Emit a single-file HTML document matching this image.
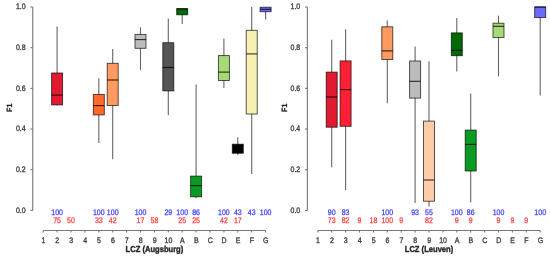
<!DOCTYPE html>
<html><head><meta charset="utf-8"><style>
html,body{margin:0;padding:0;background:#fff;}
body{width:550px;height:257px;overflow:hidden;}
svg{display:block;will-change:transform;}
text{font-family:"Liberation Sans",sans-serif;text-rendering:geometricPrecision;}
.ax{stroke:#777;stroke-width:1.1;fill:none;}
.wh{stroke:#666;stroke-width:1.1;}
.bx{stroke:rgba(0,0,0,0.72);stroke-width:0.9;}
.md{stroke:rgba(0,0,0,0.8);stroke-width:1.1;}
.yt{font-size:7.98px;fill:#404040;stroke:#404040;stroke-width:0.35px;text-anchor:end;}
.xt{font-size:7.98px;fill:#404040;stroke:#404040;stroke-width:0.35px;text-anchor:middle;}
.yl{font-size:7.6px;font-weight:bold;fill:#222;stroke:#222;stroke-width:0.3px;text-anchor:middle;}
.xl{font-size:8.66px;font-weight:bold;fill:#2a2a2a;stroke:#2a2a2a;stroke-width:0.4px;text-anchor:middle;}
.bn{font-size:7.98px;fill:#3a3aff;stroke:#3a3aff;stroke-width:0.25px;text-anchor:middle;}
.rn{font-size:7.98px;fill:#ff3a3a;stroke:#ff3a3a;stroke-width:0.25px;text-anchor:middle;}
</style></head><body>
<svg width="550" height="257" viewBox="0 0 550 257">
<rect width="550" height="257" fill="#fff"/>
<g>
<line x1="32.75" y1="7.00" x2="32.75" y2="210.40" class="ax"/>
<line x1="30.45" y1="210.40" x2="32.75" y2="210.40" class="ax"/>
<text transform="translate(25.65,212.60) scale(0.8772,1)" class="yt">0.0</text>
<line x1="30.45" y1="169.72" x2="32.75" y2="169.72" class="ax"/>
<text transform="translate(25.65,171.92) scale(0.8772,1)" class="yt">0.2</text>
<line x1="30.45" y1="129.04" x2="32.75" y2="129.04" class="ax"/>
<text transform="translate(25.65,131.24) scale(0.8772,1)" class="yt">0.4</text>
<line x1="30.45" y1="88.36" x2="32.75" y2="88.36" class="ax"/>
<text transform="translate(25.65,90.56) scale(0.8772,1)" class="yt">0.6</text>
<line x1="30.45" y1="47.68" x2="32.75" y2="47.68" class="ax"/>
<text transform="translate(25.65,49.88) scale(0.8772,1)" class="yt">0.8</text>
<line x1="30.45" y1="7.00" x2="32.75" y2="7.00" class="ax"/>
<text transform="translate(25.65,9.20) scale(0.8772,1)" class="yt">1.0</text>
<text transform="translate(12.3,107.8) rotate(-90) scale(0.92,1)" class="yl">F1</text>
<line x1="43.20" y1="230.5" x2="265.60" y2="230.5" class="ax"/>
<line x1="43.20" y1="230.5" x2="43.20" y2="232.5" class="ax"/>
<text transform="translate(43.40,243.00) scale(0.8772,1)" class="xt">1</text>
<line x1="57.10" y1="230.5" x2="57.10" y2="232.5" class="ax"/>
<text transform="translate(57.30,243.00) scale(0.8772,1)" class="xt">2</text>
<line x1="71.00" y1="230.5" x2="71.00" y2="232.5" class="ax"/>
<text transform="translate(71.20,243.00) scale(0.8772,1)" class="xt">3</text>
<line x1="84.90" y1="230.5" x2="84.90" y2="232.5" class="ax"/>
<text transform="translate(85.10,243.00) scale(0.8772,1)" class="xt">4</text>
<line x1="98.80" y1="230.5" x2="98.80" y2="232.5" class="ax"/>
<text transform="translate(99.00,243.00) scale(0.8772,1)" class="xt">5</text>
<line x1="112.70" y1="230.5" x2="112.70" y2="232.5" class="ax"/>
<text transform="translate(112.90,243.00) scale(0.8772,1)" class="xt">6</text>
<line x1="126.60" y1="230.5" x2="126.60" y2="232.5" class="ax"/>
<text transform="translate(126.80,243.00) scale(0.8772,1)" class="xt">7</text>
<line x1="140.50" y1="230.5" x2="140.50" y2="232.5" class="ax"/>
<text transform="translate(140.70,243.00) scale(0.8772,1)" class="xt">8</text>
<line x1="154.40" y1="230.5" x2="154.40" y2="232.5" class="ax"/>
<text transform="translate(154.60,243.00) scale(0.8772,1)" class="xt">9</text>
<line x1="168.30" y1="230.5" x2="168.30" y2="232.5" class="ax"/>
<text transform="translate(168.50,243.00) scale(0.8772,1)" class="xt">10</text>
<line x1="182.20" y1="230.5" x2="182.20" y2="232.5" class="ax"/>
<text transform="translate(182.40,243.00) scale(0.8772,1)" class="xt">A</text>
<line x1="196.10" y1="230.5" x2="196.10" y2="232.5" class="ax"/>
<text transform="translate(196.30,243.00) scale(0.8772,1)" class="xt">B</text>
<line x1="210.00" y1="230.5" x2="210.00" y2="232.5" class="ax"/>
<text transform="translate(210.20,243.00) scale(0.8772,1)" class="xt">C</text>
<line x1="223.90" y1="230.5" x2="223.90" y2="232.5" class="ax"/>
<text transform="translate(224.10,243.00) scale(0.8772,1)" class="xt">D</text>
<line x1="237.80" y1="230.5" x2="237.80" y2="232.5" class="ax"/>
<text transform="translate(238.00,243.00) scale(0.8772,1)" class="xt">E</text>
<line x1="251.70" y1="230.5" x2="251.70" y2="232.5" class="ax"/>
<text transform="translate(251.90,243.00) scale(0.8772,1)" class="xt">F</text>
<line x1="265.60" y1="230.5" x2="265.60" y2="232.5" class="ax"/>
<text transform="translate(265.80,243.00) scale(0.8772,1)" class="xt">G</text>
<text transform="translate(154.40,252.00) scale(0.8772,1)" class="xl">LCZ (Augsburg)</text>
<text transform="translate(57.10,214.60) scale(0.8772,1)" class="bn">100</text>
<text transform="translate(98.80,214.60) scale(0.8772,1)" class="bn">100</text>
<text transform="translate(112.70,214.60) scale(0.8772,1)" class="bn">100</text>
<text transform="translate(140.50,214.60) scale(0.8772,1)" class="bn">100</text>
<text transform="translate(168.30,214.60) scale(0.8772,1)" class="bn">29</text>
<text transform="translate(182.20,214.60) scale(0.8772,1)" class="bn">100</text>
<text transform="translate(196.10,214.60) scale(0.8772,1)" class="bn">86</text>
<text transform="translate(223.90,214.60) scale(0.8772,1)" class="bn">100</text>
<text transform="translate(237.80,214.60) scale(0.8772,1)" class="bn">43</text>
<text transform="translate(251.70,214.60) scale(0.8772,1)" class="bn">43</text>
<text transform="translate(265.60,214.60) scale(0.8772,1)" class="bn">100</text>
<text transform="translate(57.10,222.90) scale(0.8772,1)" class="rn">75</text>
<text transform="translate(71.00,222.90) scale(0.8772,1)" class="rn">50</text>
<text transform="translate(98.80,222.90) scale(0.8772,1)" class="rn">33</text>
<text transform="translate(112.70,222.90) scale(0.8772,1)" class="rn">42</text>
<text transform="translate(140.50,222.90) scale(0.8772,1)" class="rn">17</text>
<text transform="translate(154.40,222.90) scale(0.8772,1)" class="rn">58</text>
<text transform="translate(182.20,222.90) scale(0.8772,1)" class="rn">25</text>
<text transform="translate(196.10,222.90) scale(0.8772,1)" class="rn">25</text>
<text transform="translate(223.90,222.90) scale(0.8772,1)" class="rn">42</text>
<text transform="translate(237.80,222.90) scale(0.8772,1)" class="rn">17</text>
<line x1="57.10" y1="26.6" x2="57.10" y2="105.6" class="wh"/>
<rect x="51.60" y="73.0" width="11.0" height="31.90" fill="#e01a30" class="bx"/>
<line x1="51.60" y1="95.1" x2="62.60" y2="95.1" class="md"/>
<line x1="98.80" y1="78.3" x2="98.80" y2="143.0" class="wh"/>
<rect x="93.30" y="94.4" width="11.0" height="20.50" fill="#ff6a2a" class="bx"/>
<line x1="93.30" y1="105.6" x2="104.30" y2="105.6" class="md"/>
<line x1="112.70" y1="49.1" x2="112.70" y2="159.3" class="wh"/>
<rect x="107.20" y="63.3" width="11.0" height="42.20" fill="#ff9a60" class="bx"/>
<line x1="107.20" y1="80.0" x2="118.20" y2="80.0" class="md"/>
<line x1="140.50" y1="27.3" x2="140.50" y2="70.2" class="wh"/>
<rect x="135.00" y="34.4" width="11.0" height="13.90" fill="#bcbcbc" class="bx"/>
<line x1="135.00" y1="39.6" x2="146.00" y2="39.6" class="md"/>
<line x1="168.30" y1="18.6" x2="168.30" y2="115.2" class="wh"/>
<rect x="162.80" y="42.7" width="11.0" height="48.20" fill="#555555" class="bx"/>
<line x1="162.80" y1="67.5" x2="173.80" y2="67.5" class="md"/>
<line x1="182.20" y1="8.7" x2="182.20" y2="24.1" class="wh"/>
<rect x="176.70" y="8.7" width="11.0" height="6.10" fill="#006a00" class="bx"/>
<line x1="176.70" y1="8.9" x2="187.70" y2="8.9" class="md"/>
<line x1="196.10" y1="84.5" x2="196.10" y2="198.2" class="wh"/>
<rect x="190.60" y="176.1" width="11.0" height="20.70" fill="#0a9c22" class="bx"/>
<line x1="190.60" y1="185.6" x2="201.60" y2="185.6" class="md"/>
<line x1="223.90" y1="38.6" x2="223.90" y2="88.0" class="wh"/>
<rect x="218.40" y="55.6" width="11.0" height="24.90" fill="#a8d878" class="bx"/>
<line x1="218.40" y1="72.1" x2="229.40" y2="72.1" class="md"/>
<line x1="237.80" y1="137.2" x2="237.80" y2="154.9" class="wh"/>
<rect x="232.30" y="144.2" width="11.0" height="8.80" fill="#000000" class="bx"/>
<line x1="232.30" y1="153.0" x2="243.30" y2="153.0" class="md"/>
<line x1="251.70" y1="7.0" x2="251.70" y2="173.9" class="wh"/>
<rect x="246.20" y="30.3" width="11.0" height="83.70" fill="#f8f0b0" class="bx"/>
<line x1="246.20" y1="53.9" x2="257.20" y2="53.9" class="md"/>
<line x1="265.60" y1="7.2" x2="265.60" y2="19.6" class="wh"/>
<rect x="260.10" y="7.2" width="11.0" height="4.50" fill="#6a6aff" class="bx"/>
<line x1="260.10" y1="9.3" x2="271.10" y2="9.3" class="md"/>
</g>
<g transform="translate(274.6,0)">
<line x1="32.75" y1="7.00" x2="32.75" y2="210.40" class="ax"/>
<line x1="30.45" y1="210.40" x2="32.75" y2="210.40" class="ax"/>
<text transform="translate(25.65,212.60) scale(0.8772,1)" class="yt">0.0</text>
<line x1="30.45" y1="169.72" x2="32.75" y2="169.72" class="ax"/>
<text transform="translate(25.65,171.92) scale(0.8772,1)" class="yt">0.2</text>
<line x1="30.45" y1="129.04" x2="32.75" y2="129.04" class="ax"/>
<text transform="translate(25.65,131.24) scale(0.8772,1)" class="yt">0.4</text>
<line x1="30.45" y1="88.36" x2="32.75" y2="88.36" class="ax"/>
<text transform="translate(25.65,90.56) scale(0.8772,1)" class="yt">0.6</text>
<line x1="30.45" y1="47.68" x2="32.75" y2="47.68" class="ax"/>
<text transform="translate(25.65,49.88) scale(0.8772,1)" class="yt">0.8</text>
<line x1="30.45" y1="7.00" x2="32.75" y2="7.00" class="ax"/>
<text transform="translate(25.65,9.20) scale(0.8772,1)" class="yt">1.0</text>
<text transform="translate(12.3,107.8) rotate(-90) scale(0.92,1)" class="yl">F1</text>
<line x1="43.20" y1="230.5" x2="265.60" y2="230.5" class="ax"/>
<line x1="43.20" y1="230.5" x2="43.20" y2="232.5" class="ax"/>
<text transform="translate(43.40,243.00) scale(0.8772,1)" class="xt">1</text>
<line x1="57.10" y1="230.5" x2="57.10" y2="232.5" class="ax"/>
<text transform="translate(57.30,243.00) scale(0.8772,1)" class="xt">2</text>
<line x1="71.00" y1="230.5" x2="71.00" y2="232.5" class="ax"/>
<text transform="translate(71.20,243.00) scale(0.8772,1)" class="xt">3</text>
<line x1="84.90" y1="230.5" x2="84.90" y2="232.5" class="ax"/>
<text transform="translate(85.10,243.00) scale(0.8772,1)" class="xt">4</text>
<line x1="98.80" y1="230.5" x2="98.80" y2="232.5" class="ax"/>
<text transform="translate(99.00,243.00) scale(0.8772,1)" class="xt">5</text>
<line x1="112.70" y1="230.5" x2="112.70" y2="232.5" class="ax"/>
<text transform="translate(112.90,243.00) scale(0.8772,1)" class="xt">6</text>
<line x1="126.60" y1="230.5" x2="126.60" y2="232.5" class="ax"/>
<text transform="translate(126.80,243.00) scale(0.8772,1)" class="xt">7</text>
<line x1="140.50" y1="230.5" x2="140.50" y2="232.5" class="ax"/>
<text transform="translate(140.70,243.00) scale(0.8772,1)" class="xt">8</text>
<line x1="154.40" y1="230.5" x2="154.40" y2="232.5" class="ax"/>
<text transform="translate(154.60,243.00) scale(0.8772,1)" class="xt">9</text>
<line x1="168.30" y1="230.5" x2="168.30" y2="232.5" class="ax"/>
<text transform="translate(168.50,243.00) scale(0.8772,1)" class="xt">10</text>
<line x1="182.20" y1="230.5" x2="182.20" y2="232.5" class="ax"/>
<text transform="translate(182.40,243.00) scale(0.8772,1)" class="xt">A</text>
<line x1="196.10" y1="230.5" x2="196.10" y2="232.5" class="ax"/>
<text transform="translate(196.30,243.00) scale(0.8772,1)" class="xt">B</text>
<line x1="210.00" y1="230.5" x2="210.00" y2="232.5" class="ax"/>
<text transform="translate(210.20,243.00) scale(0.8772,1)" class="xt">C</text>
<line x1="223.90" y1="230.5" x2="223.90" y2="232.5" class="ax"/>
<text transform="translate(224.10,243.00) scale(0.8772,1)" class="xt">D</text>
<line x1="237.80" y1="230.5" x2="237.80" y2="232.5" class="ax"/>
<text transform="translate(238.00,243.00) scale(0.8772,1)" class="xt">E</text>
<line x1="251.70" y1="230.5" x2="251.70" y2="232.5" class="ax"/>
<text transform="translate(251.90,243.00) scale(0.8772,1)" class="xt">F</text>
<line x1="265.60" y1="230.5" x2="265.60" y2="232.5" class="ax"/>
<text transform="translate(265.80,243.00) scale(0.8772,1)" class="xt">G</text>
<text transform="translate(154.40,252.00) scale(0.8772,1)" class="xl">LCZ (Leuven)</text>
<text transform="translate(57.10,214.60) scale(0.8772,1)" class="bn">90</text>
<text transform="translate(71.00,214.60) scale(0.8772,1)" class="bn">83</text>
<text transform="translate(112.70,214.60) scale(0.8772,1)" class="bn">100</text>
<text transform="translate(140.50,214.60) scale(0.8772,1)" class="bn">93</text>
<text transform="translate(154.40,214.60) scale(0.8772,1)" class="bn">55</text>
<text transform="translate(182.20,214.60) scale(0.8772,1)" class="bn">100</text>
<text transform="translate(196.10,214.60) scale(0.8772,1)" class="bn">86</text>
<text transform="translate(223.90,214.60) scale(0.8772,1)" class="bn">100</text>
<text transform="translate(265.60,214.60) scale(0.8772,1)" class="bn">100</text>
<text transform="translate(57.10,222.90) scale(0.8772,1)" class="rn">73</text>
<text transform="translate(71.00,222.90) scale(0.8772,1)" class="rn">82</text>
<text transform="translate(84.90,222.90) scale(0.8772,1)" class="rn">9</text>
<text transform="translate(98.80,222.90) scale(0.8772,1)" class="rn">18</text>
<text transform="translate(112.70,222.90) scale(0.8772,1)" class="rn">100</text>
<text transform="translate(126.60,222.90) scale(0.8772,1)" class="rn">9</text>
<text transform="translate(154.40,222.90) scale(0.8772,1)" class="rn">82</text>
<text transform="translate(182.20,222.90) scale(0.8772,1)" class="rn">9</text>
<text transform="translate(196.10,222.90) scale(0.8772,1)" class="rn">9</text>
<text transform="translate(223.90,222.90) scale(0.8772,1)" class="rn">9</text>
<text transform="translate(237.80,222.90) scale(0.8772,1)" class="rn">9</text>
<text transform="translate(251.70,222.90) scale(0.8772,1)" class="rn">9</text>
<line x1="57.10" y1="39.7" x2="57.10" y2="167.3" class="wh"/>
<rect x="51.60" y="72.1" width="11.0" height="55.10" fill="#e01a30" class="bx"/>
<line x1="51.60" y1="97.0" x2="62.60" y2="97.0" class="md"/>
<line x1="71.00" y1="29.2" x2="71.00" y2="190.0" class="wh"/>
<rect x="65.50" y="60.9" width="11.0" height="65.40" fill="#ff2035" class="bx"/>
<line x1="65.50" y1="89.6" x2="76.50" y2="89.6" class="md"/>
<line x1="112.70" y1="20.5" x2="112.70" y2="103.2" class="wh"/>
<rect x="107.20" y="26.8" width="11.0" height="32.70" fill="#ff9a60" class="bx"/>
<line x1="107.20" y1="50.9" x2="118.20" y2="50.9" class="md"/>
<line x1="140.50" y1="46.5" x2="140.50" y2="203.1" class="wh"/>
<rect x="135.00" y="61.0" width="11.0" height="37.10" fill="#bcbcbc" class="bx"/>
<line x1="135.00" y1="81.3" x2="146.00" y2="81.3" class="md"/>
<line x1="154.40" y1="61.3" x2="154.40" y2="206.6" class="wh"/>
<rect x="148.90" y="121.1" width="11.0" height="80.10" fill="#ffccaa" class="bx"/>
<line x1="148.90" y1="180.0" x2="159.90" y2="180.0" class="md"/>
<line x1="182.20" y1="17.9" x2="182.20" y2="71.6" class="wh"/>
<rect x="176.70" y="32.9" width="11.0" height="22.80" fill="#006a00" class="bx"/>
<line x1="176.70" y1="50.3" x2="187.70" y2="50.3" class="md"/>
<line x1="196.10" y1="93.6" x2="196.10" y2="202.2" class="wh"/>
<rect x="190.60" y="130.1" width="11.0" height="40.90" fill="#0a9c22" class="bx"/>
<line x1="190.60" y1="144.4" x2="201.60" y2="144.4" class="md"/>
<line x1="223.90" y1="15.6" x2="223.90" y2="76.5" class="wh"/>
<rect x="218.40" y="23.2" width="11.0" height="14.40" fill="#a8d878" class="bx"/>
<line x1="218.40" y1="26.3" x2="229.40" y2="26.3" class="md"/>
<line x1="265.60" y1="7.0" x2="265.60" y2="95.6" class="wh"/>
<rect x="260.10" y="7.0" width="11.0" height="10.60" fill="#6a6aff" class="bx"/>
<line x1="260.10" y1="7.0" x2="271.10" y2="7.0" class="md"/>
</g>
</svg>
</body></html>
